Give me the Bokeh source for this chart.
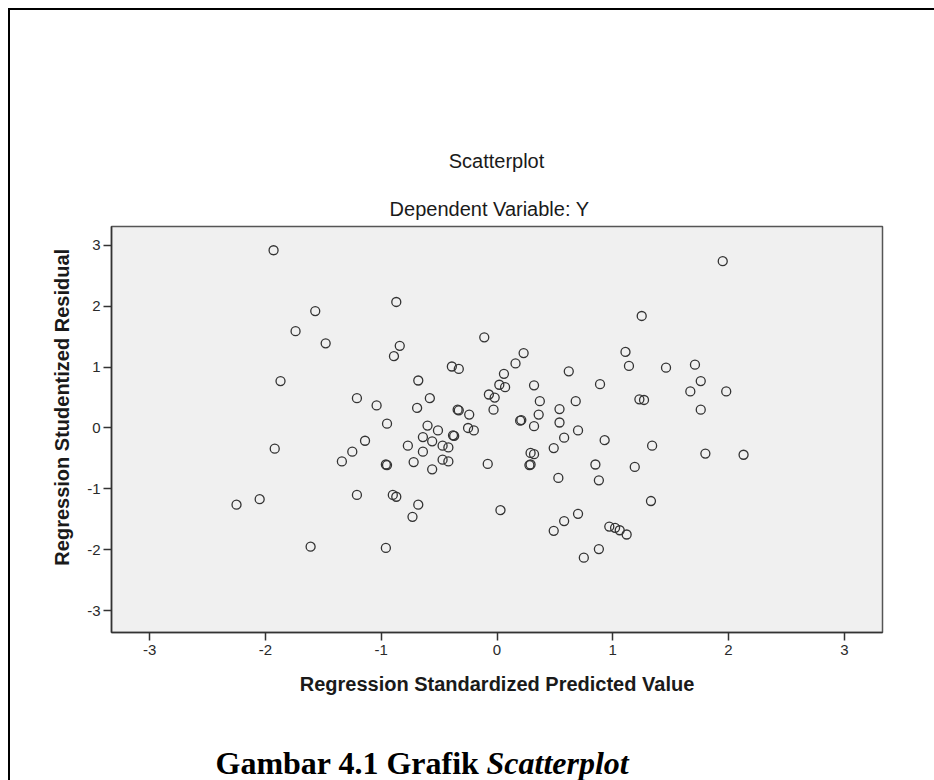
from bokeh.plotting import figure
from bokeh.layouts import column
from bokeh.models import Range1d, Label, FixedTicker, ColumnDataSource
from bokeh.embed import file_html
from bokeh.resources import INLINE

# Regression Standardized Predicted Value
pred = [-1.93, -0.87, -1.57, -1.74, -1.48, -0.84, -0.89, -1.87, -1.21, -1.04,
        -0.95, -1.14, 1.25, -0.11, 0.23, 1.11, 0.16, -0.39, -0.33, 1.14,
        1.46, 0.62, 0.06, -0.68, 0.89, 0.02, 0.07, 0.32, -0.58, -0.07,
        -0.02, 0.37, 0.68, 1.23, 1.27, -0.69, -0.03, 0.54, -0.33, -0.34,
        -0.24, 0.36, 0.20, 0.21, 0.54, -0.60, 0.32, -0.51, -0.25, -0.20,
        0.70, -0.37, -0.38, 0.58, 0.93, -0.77, -0.64, -0.56, -0.47, -0.42,
        -0.64, -0.72, -0.56, -0.47, -0.42, -0.95, -0.96, -0.08, 0.29, 0.32,
        0.28, 0.29, 0.49, 1.34, 0.85, 1.19, 0.53, 0.88, -0.90, -0.87,
        -0.68, -0.73, 0.03, 1.33, 0.70, 0.58, 0.49, 0.97, 1.02, 1.06,
        1.12, -0.96, 0.75, 0.88, -1.92, -1.25, -1.34, -1.21, -2.25, -2.05,
        -1.61, 1.95, 1.71, 1.76, 1.67, 1.98, 1.76, 1.80, 2.13]
# Regression Studentized Residual
resid = [2.92, 2.07, 1.92, 1.59, 1.39, 1.35, 1.18, 0.77, 0.49, 0.37,
         0.07, -0.21, 1.84, 1.49, 1.23, 1.25, 1.06, 1.01, 0.97, 1.02,
         0.99, 0.93, 0.89, 0.78, 0.72, 0.71, 0.67, 0.70, 0.49, 0.55,
         0.50, 0.44, 0.44, 0.47, 0.46, 0.33, 0.30, 0.31, 0.29, 0.30,
         0.22, 0.22, 0.12, 0.13, 0.09, 0.04, 0.03, -0.04, 0.00, -0.04,
         -0.04, -0.13, -0.12, -0.16, -0.20, -0.29, -0.15, -0.22, -0.29, -0.32,
         -0.39, -0.56, -0.68, -0.52, -0.55, -0.61, -0.60, -0.59, -0.41, -0.43,
         -0.61, -0.60, -0.33, -0.29, -0.60, -0.64, -0.82, -0.86, -1.10, -1.13,
         -1.26, -1.46, -1.35, -1.20, -1.41, -1.53, -1.69, -1.62, -1.64, -1.68,
         -1.75, -1.97, -2.13, -1.99, -0.34, -0.39, -0.55, -1.10, -1.26, -1.17,
         -1.95, 2.74, 1.04, 0.77, 0.60, 0.60, 0.30, -0.42, -0.44]

ticks = [-3, -2, -1, 0, 1, 2, 3]
title_text = "Scatterplot"
subtitle_text = "Dependent Variable: Y"
x_label = "Regression Standardized Predicted Value"
y_label = "Regression Studentized Residual"
caption_a = "Gambar 4.1 Grafik "
caption_b = "Scatterplot"

W = 924
H_TOP, H_MAIN, H_CAP = 212, 500, 58
LEFT, RIGHT = 101, 52


def text_panel(h):
    # frame aligned with the main plot's frame; x data == pixel offset in the figure
    f = figure(width=W, height=h, output_backend="svg", toolbar_location=None,
               x_range=Range1d(LEFT, W - RIGHT), y_range=Range1d(h, 0),
               min_border_left=LEFT, min_border_right=RIGHT,
               min_border_top=0, min_border_bottom=0)
    f.axis.visible = False
    f.grid.visible = False
    f.outline_line_color = None
    f.background_fill_color = "white"
    f.border_fill_color = "white"
    return f


def lab(f, text, x, y, size, style="normal", align="center", font="Liberation Sans",
        color="#1a1a1a", baseline="middle"):
    f.add_layout(Label(x=x, y=y, text=text, text_font=font, text_font_size=size,
                       text_font_style=style, text_align=align, text_baseline=baseline,
                       text_color=color))


# --- top titles ---
top = text_panel(H_TOP)
lab(top, title_text, 486, 150, "20px")
lab(top, subtitle_text, 479, 198, "20px")

# --- main scatter ---
p = figure(width=W, height=H_MAIN, output_backend="svg", toolbar_location=None,
           x_range=Range1d(-3.33, 3.33), y_range=Range1d(-3.36, 3.31),
           min_border_left=LEFT, min_border_right=RIGHT,
           min_border_top=4, min_border_bottom=90)
p.background_fill_color = "#f0f0f0"
p.border_fill_color = "white"
p.outline_line_color = "#555555"
p.outline_line_width = 1.5
p.grid.visible = False

for ax in (p.xaxis[0], p.yaxis[0]):
    ax.ticker = FixedTicker(ticks=ticks)
    ax.major_label_overrides = {t: str(t) for t in ticks}
    ax.axis_line_color = "#333333"
    ax.axis_line_width = 1.5
    ax.major_tick_line_color = "#333333"
    ax.major_tick_line_width = 1.5
    ax.major_tick_out = 8
    ax.major_tick_in = 0
    ax.minor_tick_out = 0
    ax.minor_tick_in = 0
    ax.major_label_text_font = "Liberation Sans"
    ax.major_label_text_font_size = "15px"
    ax.major_label_text_color = "#2a2a2a"
    ax.axis_label_text_font = "Liberation Sans"
    ax.axis_label_text_font_size = "20px"
    ax.axis_label_text_font_style = "bold"
    ax.axis_label_text_color = "#1a1a1a"
p.xaxis[0].major_label_standoff = 4
p.yaxis[0].major_label_standoff = 3
p.xaxis[0].axis_label = x_label
p.xaxis[0].axis_label_standoff = 15
p.yaxis[0].axis_label = "\u00a0" * 8 + y_label
p.yaxis[0].axis_label_standoff = 11

src = ColumnDataSource(dict(x=pred, y=resid))
p.scatter("x", "y", source=src, marker="circle", size=9, fill_alpha=0,
          line_color="#333333", line_width=1.3)

# --- caption ---
cap = text_panel(H_CAP)
lab(cap, caption_a, 205, 40, "32px", style="bold", align="left", font="Liberation Serif",
    color="black", baseline="alphabetic")
lab(cap, caption_b, 205 + 271, 40, "32px", style="bold italic", align="left",
    font="Liberation Serif", color="black", baseline="alphabetic")

layout = column(top, p, cap, spacing=0)
layout.styles = {"margin-left": "8px", "margin-top": "8px",
                 "border-top": "2px solid black", "border-left": "2px solid black"}

open("out.html", "w").write(file_html(layout, INLINE))
